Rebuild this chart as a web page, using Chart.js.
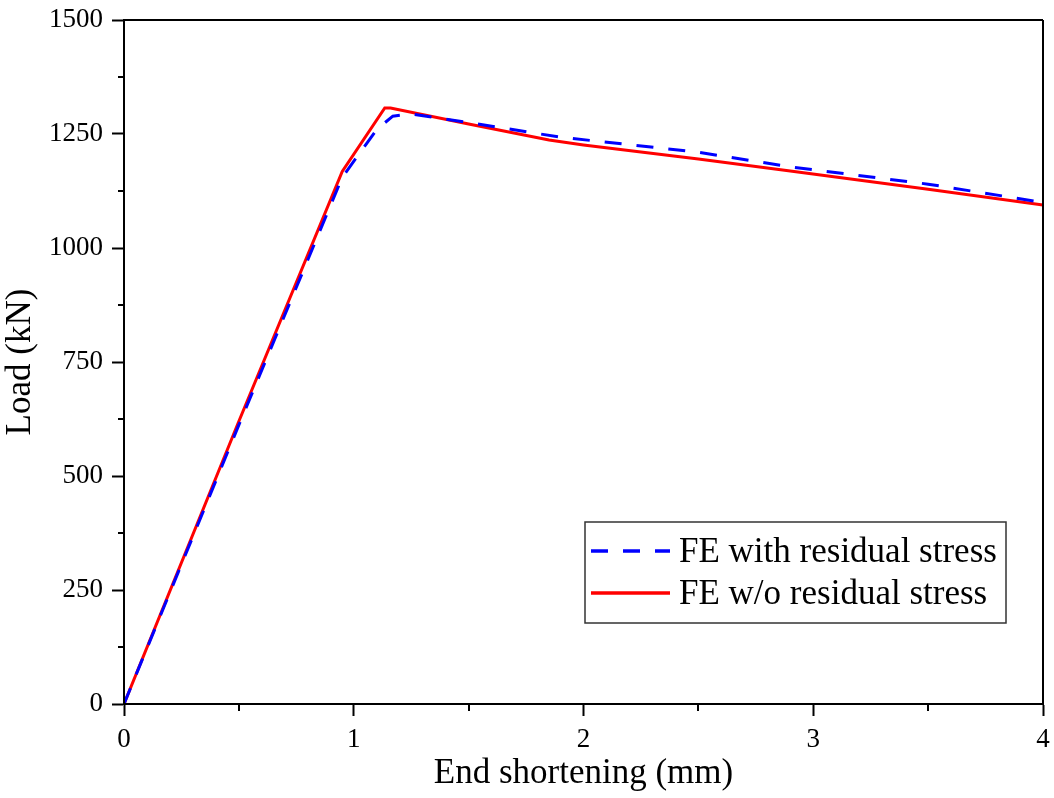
<!DOCTYPE html>
<html>
<head>
<meta charset="utf-8">
<script src="https://cdn.jsdelivr.net/npm/chart.js@4/dist/chart.umd.min.js"></script>
<style>
html,body{margin:0;padding:0;background:#fff;}
#wrap{width:1054px;height:798px;position:relative;}
</style>
</head>
<body>
<div id="wrap"><canvas id="c" width="1054" height="798"></canvas></div>
<script>
// Data
const withRS_x = [0, 0.5, 0.95, 1.1, 1.17, 1.25, 1.5, 1.9, 2.5, 2.9, 3.5, 4.0];
const withRS_y = [0, 612, 1155, 1260, 1289, 1294, 1275, 1243, 1210, 1178, 1140, 1100];
const woRS_x = [0, 0.5, 0.95, 1.135, 1.16, 1.5, 1.85, 2.0, 2.5, 2.9, 3.5, 4.0];
const woRS_y = [0, 620, 1168, 1307, 1307, 1272, 1237, 1226, 1195, 1169, 1129, 1094];
const seriesLabels = ['FE with residual stress', 'FE w/o residual stress'];
const xTicks = [0, 1, 2, 3, 4];
const yTicks = [0, 250, 500, 750, 1000, 1250, 1500];
const xMinor = [0.5, 1.5, 2.5, 3.5];
const yMinor = [125, 375, 625, 875, 1125, 1375];

const FONT = "'Liberation Serif', 'Times New Roman', serif";

function pts(xs, ys){ return xs.map((x,i)=>({x:x, y:ys[i]})); }

const frame = {
  id:'frame',
  afterDraw(chart){
    const {ctx, chartArea:a, scales:{x, y}} = chart;
    ctx.save();
    ctx.strokeStyle = '#000';
    ctx.lineWidth = 2;
    ctx.beginPath();
    ctx.moveTo(a.left, a.top); ctx.lineTo(a.right, a.top);
    ctx.moveTo(a.right, a.top); ctx.lineTo(a.right, a.bottom);
    ctx.moveTo(a.left, a.top); ctx.lineTo(a.left, a.bottom);
    ctx.moveTo(a.left, a.bottom); ctx.lineTo(a.right, a.bottom);
    ctx.stroke();
    // minor ticks
    ctx.beginPath();
    xMinor.forEach(v=>{ const px = Math.round(x.getPixelForValue(v)); ctx.moveTo(px, a.bottom); ctx.lineTo(px, a.bottom+7); });
    yMinor.forEach(v=>{ const py = Math.round(y.getPixelForValue(v)); ctx.moveTo(a.left, py); ctx.lineTo(a.left-6, py); });
    ctx.stroke();
    // legend
    const bx = 585, by = 522, bw = 421, bh = 101;
    ctx.fillStyle = '#fff';
    ctx.fillRect(bx, by, bw, bh);
    ctx.lineWidth = 1.5;
    ctx.strokeStyle = '#333';
    ctx.strokeRect(bx, by, bw, bh);
    const rows = [551, 593];
    chart.data.datasets.forEach((ds, i)=>{
      ctx.save();
      ctx.strokeStyle = ds.borderColor;
      ctx.lineWidth = 3.5;
      ctx.setLineDash(ds.borderDash || []);
      ctx.lineDashOffset = 0;
      ctx.beginPath();
      ctx.moveTo(591, rows[i]); ctx.lineTo(670, rows[i]);
      ctx.stroke();
      ctx.restore();
      ctx.fillStyle = '#000';
      ctx.font = '35px ' + FONT;
      ctx.textBaseline = 'alphabetic';
      ctx.textAlign = 'left';
      ctx.fillText(ds.label, 679, rows[i] + 11);
    });
    ctx.restore();
  }
};

function noPad(s){ s.paddingTop = 0; s.paddingBottom = 0; s.paddingLeft = 0; s.paddingRight = 0; }

new Chart(document.getElementById('c'), {
  type: 'scatter',
  data: {
    datasets: [
      {label: seriesLabels[0], data: pts(withRS_x, withRS_y), showLine: true, borderColor: '#0000ff', borderWidth: 3, borderDash: [17, 15], pointRadius: 0, tension: 0},
      {label: seriesLabels[1], data: pts(woRS_x, woRS_y), showLine: true, borderColor: '#ff0000', borderWidth: 3, pointRadius: 0, tension: 0}
    ]
  },
  options: {
    responsive: false,
    animation: false,
    devicePixelRatio: 1,
    layout: {padding: {top: 20, right: 11, left: 0, bottom: 0}},
    plugins: {legend: {display: false}, tooltip: {enabled: false}},
    scales: {
      x: {
        type: 'linear', min: 0, max: 4,
        afterBuildTicks(s){ s.ticks = xTicks.map(v=>({value:v})); },
        afterFit(s){ s.height = 94; noPad(s); },
        grid: {drawOnChartArea: false, drawTicks: true, tickLength: 12, tickWidth: 2, tickColor: '#000'},
        border: {display: true, color: '#000', width: 2},
        ticks: {color: '#000', font: {family: FONT, size: 27}, padding: 8, maxRotation: 0, callback: v => String(v)},
        title: {display: true, text: 'End shortening (mm)', color: '#000', font: {family: FONT, size: 35}, padding: {top: 0, bottom: 3}}
      },
      y: {
        type: 'linear', min: 0, max: 1500,
        afterBuildTicks(s){ s.ticks = yTicks.map(v=>({value:v})); },
        afterFit(s){ s.width = 124; noPad(s); },
        grid: {drawOnChartArea: false, drawTicks: true, tickLength: 12, tickWidth: 2, tickColor: '#000'},
        border: {display: true, color: '#000', width: 2},
        ticks: {color: '#000', font: {family: FONT, size: 27}, padding: 9, callback: v => String(v)},
        title: {display: true, text: 'Load (kN)', color: '#000', font: {family: FONT, size: 35}, padding: {top: 0, bottom: 5}}
      }
    }
  },
  plugins: [frame]
});
</script>
</body>
</html>
